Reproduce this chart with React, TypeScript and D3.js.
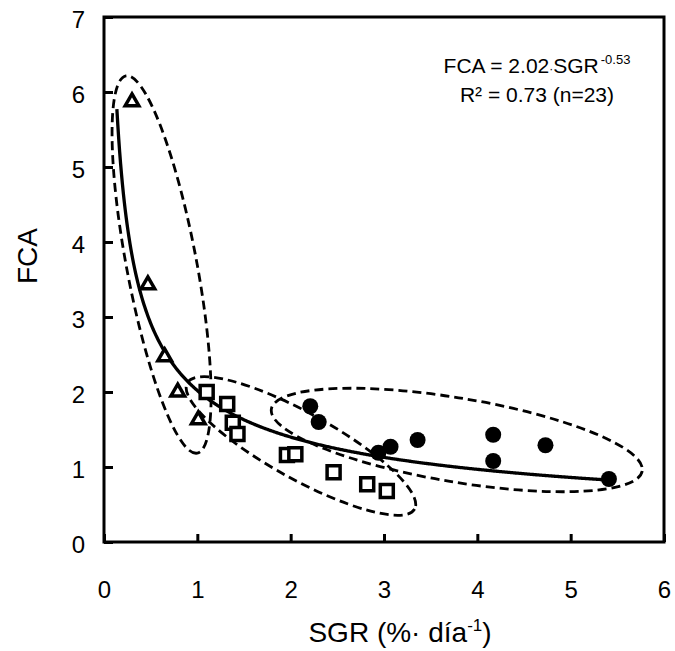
import { useEffect, useRef } from 'react'
import * as d3 from 'd3'

// triangles
const triX = [0.3, 0.47, 0.65, 0.79, 1.01]
const triY = [5.87, 3.43, 2.47, 2.0, 1.63]
// open squares
const sqX = [1.1, 1.32, 1.38, 1.43, 1.96, 2.05, 2.46, 2.82, 3.03]
const sqY = [2.0, 1.84, 1.59, 1.44, 1.16, 1.17, 0.93, 0.77, 0.68]
// filled circles
const dotX = [2.21, 2.3, 2.94, 3.07, 3.36, 4.17, 4.17, 4.73, 5.41]
const dotY = [1.81, 1.6, 1.19, 1.27, 1.36, 1.43, 1.08, 1.29, 0.84]

// fit FCA = a * SGR^b
const fitA = 2.02
const fitB = -0.53
const fitRange = [0.138, 5.41]

// dashed group ellipses: centre in data units
const groupCx = [0.617, 2.11, 3.78]
const groupCy = [3.7, 1.28, 1.36]

const xTicks = [0, 1, 2, 3, 4, 5, 6]
const yTicks = [0, 1, 2, 3, 4, 5, 6, 7]

export default function App() {
  const svgRef = useRef<SVGSVGElement>(null)

  useEffect(() => {
    const svg = d3.select(svgRef.current)
    svg.selectAll('*').remove()

    const font = '"Liberation Sans", Arial, sans-serif'
    const xScale = d3.scaleLinear([0, 6], [104, 664])
    const yScale = d3.scaleLinear([0, 7], [542, 17])

    // x axis
    const xAxis = d3.axisBottom(xScale)
      .tickValues(xTicks)
      .tickFormat(d3.format('d'))
      .tickSizeInner(-8)
      .tickSizeOuter(0)
      .tickPadding(39)
    svg.append('g')
      .attr('class', 'x-axis')
      .attr('transform', `translate(0,${yScale(0)})`)
      .call(xAxis)

    // y axis
    const yAxis = d3.axisLeft(yScale)
      .tickValues(yTicks)
      .tickFormat(d3.format('d'))
      .tickSizeInner(-9)
      .tickSizeOuter(0)
      .tickPadding(19)
    svg.append('g')
      .attr('class', 'y-axis')
      .attr('transform', `translate(${xScale(0)},0)`)
      .call(yAxis)

    svg.selectAll('.x-axis > path, .y-axis > path').remove()
    svg.selectAll('.x-axis line, .y-axis line')
      .attr('stroke', '#000')
      .attr('stroke-width', 3)
    svg.selectAll('.x-axis text, .y-axis text')
      .attr('fill', '#000')
      .style('font-family', font)
      .style('font-size', '24px')
    svg.selectAll('.y-axis text').attr('dy', '0.45em')

    // frame
    svg.append('rect')
      .attr('x', xScale(0))
      .attr('y', yScale(7))
      .attr('width', xScale(6) - xScale(0))
      .attr('height', yScale(0) - yScale(7))
      .attr('fill', 'none')
      .attr('stroke', '#000')
      .attr('stroke-width', 3)

    // dashed ellipses around groups
    const ellipseRx = [192, 130, 188]
    const ellipseRy = [35, 33, 42]
    const ellipseAngle = [79.3, 29, 9.5]
    svg.selectAll('.group-ellipse')
      .data(groupCx)
      .join('ellipse')
      .attr('class', 'group-ellipse')
      .attr('rx', (_, i) => ellipseRx[i])
      .attr('ry', (_, i) => ellipseRy[i])
      .attr('transform', (d, i) => `translate(${xScale(d)},${yScale(groupCy[i])}) rotate(${ellipseAngle[i]})`)
      .attr('fill', 'none')
      .attr('stroke', '#000')
      .attr('stroke-width', 2.8)
      .attr('stroke-dasharray', '9 5')

    // fitted curve
    const fitX = d3.range(fitRange[0], fitRange[1], 0.01).concat([fitRange[1]])
    const line = d3.line<number>()
      .x(d => xScale(d))
      .y(d => yScale(fitA * Math.pow(d, fitB)))
    svg.append('path')
      .datum(fitX)
      .attr('d', line)
      .attr('fill', 'none')
      .attr('stroke', '#000')
      .attr('stroke-width', 3.3)

    // triangles
    const tri = d3.symbol().type(d3.symbolTriangle).size(80)
    svg.selectAll('.tri')
      .data(triX)
      .join('path')
      .attr('class', 'tri')
      .attr('d', tri)
      .attr('transform', (d, i) => `translate(${xScale(d)},${yScale(triY[i])})`)
      .attr('fill', '#fff')
      .attr('stroke', '#000')
      .attr('stroke-width', 3.5)

    // squares
    svg.selectAll('.sq')
      .data(sqX)
      .join('rect')
      .attr('class', 'sq')
      .attr('x', d => xScale(d) - 6.5)
      .attr('y', (_, i) => yScale(sqY[i]) - 6.5)
      .attr('width', 13)
      .attr('height', 13)
      .attr('fill', '#fff')
      .attr('stroke', '#000')
      .attr('stroke-width', 3.5)

    // circles
    svg.selectAll('.dot')
      .data(dotX)
      .join('circle')
      .attr('class', 'dot')
      .attr('cx', d => xScale(d))
      .attr('cy', (_, i) => yScale(dotY[i]))
      .attr('r', 8)
      .attr('fill', '#000')

    // equation
    const eq = svg.append('text')
      .attr('x', 537)
      .attr('y', 73)
      .attr('text-anchor', 'middle')
      .style('font-family', font)
      .style('font-size', '21px')
    eq.append('tspan').text('FCA = 2.02')
    eq.append('tspan').text('·').style('font-size', '12px')
    eq.append('tspan').text('SGR')
    eq.append('tspan').text('-0.53').attr('dx', 2).attr('dy', -9).style('font-size', '13px')
    svg.append('text')
      .attr('x', 537)
      .attr('y', 102)
      .attr('text-anchor', 'middle')
      .style('font-family', font)
      .style('font-size', '21px')
      .text('R² = 0.73 (n=23)')

    // axis titles
    const xt = svg.append('text')
      .attr('x', 400)
      .attr('y', 642)
      .attr('text-anchor', 'middle')
      .style('font-family', font)
      .style('font-size', '28px')
    xt.append('tspan').text('SGR (%· día')
    xt.append('tspan').text('-1').attr('dy', -11).style('font-size', '17px')
    xt.append('tspan').text(')').attr('dy', 11)

    svg.append('text')
      .attr('transform', 'translate(37,256) rotate(-90)')
      .attr('text-anchor', 'middle')
      .style('font-family', font)
      .style('font-size', '28px')
      .text('FCA')
  }, [])

  return (
    <div style={{ position: 'absolute', left: 0, top: 0, background: '#fff' }}>
      <svg ref={svgRef} width={675} height={651} style={{ display: 'block' }} />
    </div>
  )
}
